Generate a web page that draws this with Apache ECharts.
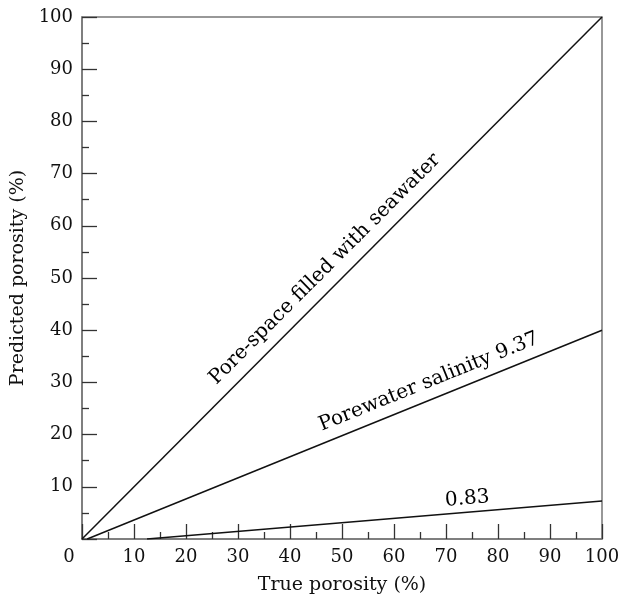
<!DOCTYPE html>
<html>
<head>
<meta charset="utf-8">
<script src="https://cdn.jsdelivr.net/npm/echarts@6/dist/echarts.min.js"></script>
<style>html,body{margin:0;padding:0;background:#fff;}#c{width:636px;height:600px;}</style>
</head>
<body>
<div id="c"></div>
<script>
// Data (true porosity %, predicted porosity %)
const seawaterLine = [[0, 0], [100, 100]];
const salinity937Line = [[1, 0], [100, 40]];
const salinity083Line = [[12.5, 0], [100, 7.3]];
// Line annotations: [x, y, text, angle]
const lineLabels = [
  [46.7, 51.7, 'Pore-space filled with seawater', 45],
  [66.7, 30.1, 'Porewater salinity 9.37', 22],
  [74.1, 7.7, '0.83', 5]
];
const xTicks = [0, 10, 20, 30, 40, 50, 60, 70, 80, 90, 100];
const yTicks = [10, 20, 30, 40, 50, 60, 70, 80, 90, 100];

const FONT = 'DejaVu Serif';
const TXT = '#111';
const chart = echarts.init(document.getElementById('c'));
const lineStyle = { color: '#111', width: 1.5 };
function lineSeries(d) {
  return { type: 'line', data: d, symbol: 'none', lineStyle: lineStyle, silent: true, z: 3 };
}
chart.setOption({
  animation: false,
  backgroundColor: '#fff',
  grid: { left: 82, right: 34, top: 17, bottom: 61, show: true, borderColor: '#777', borderWidth: 1.5, backgroundColor: 'transparent' },
  xAxis: {
    type: 'value', min: 0, max: 100, interval: 10,
    name: 'True porosity (%)', nameLocation: 'middle', nameGap: 37,
    nameTextStyle: { fontFamily: FONT, fontSize: 19, color: TXT },
    axisLine: { show: true, lineStyle: { color: '#777', width: 1.5 } },
    axisTick: { show: true, inside: true, length: 15, lineStyle: { color: '#333', width: 1.3 } },
    minorTick: { show: true, splitNumber: 2, length: 7, lineStyle: { color: '#333', width: 1.3 } },
    splitLine: { show: false },
    axisLabel: {
      margin: 9, fontFamily: FONT, fontSize: 18, color: TXT,
      formatter: function (v) { return xTicks.indexOf(v) < 0 ? '' : (v === 0 ? '{z|0}' : String(v)); },
      rich: { z: { fontFamily: FONT, fontSize: 18, color: TXT, padding: [0, 26, 0, 0] } }
    }
  },
  yAxis: {
    type: 'value', min: 0, max: 100, interval: 10,
    name: 'Predicted porosity (%)', nameLocation: 'middle', nameGap: 49,
    nameTextStyle: { fontFamily: FONT, fontSize: 19, color: TXT },
    axisLine: { show: true, lineStyle: { color: '#777', width: 1.5 } },
    axisTick: { show: true, inside: true, length: 15, lineStyle: { color: '#333', width: 1.3 } },
    minorTick: { show: true, splitNumber: 2, length: 7, lineStyle: { color: '#333', width: 1.3 } },
    splitLine: { show: false },
    axisLabel: {
      margin: 9, fontFamily: FONT, fontSize: 18, color: TXT,
      formatter: function (v) { return yTicks.indexOf(v) < 0 ? '' : String(v); }
    }
  },
  series: [
    lineSeries(seawaterLine),
    lineSeries(salinity937Line),
    lineSeries(salinity083Line),
    {
      type: 'scatter', symbolSize: 0, silent: true, z: 4,
      itemStyle: { color: '#000', opacity: 1 },
      data: lineLabels.map(function (l) {
        return {
          value: [l[0], l[1]],
          label: {
            show: true, position: 'inside', formatter: l[2], rotate: l[3],
            fontFamily: FONT, fontSize: 20, color: '#000', opacity: 1,
            textBorderWidth: 0
          }
        };
      })
    }
  ]
});
</script>
</body>
</html>
